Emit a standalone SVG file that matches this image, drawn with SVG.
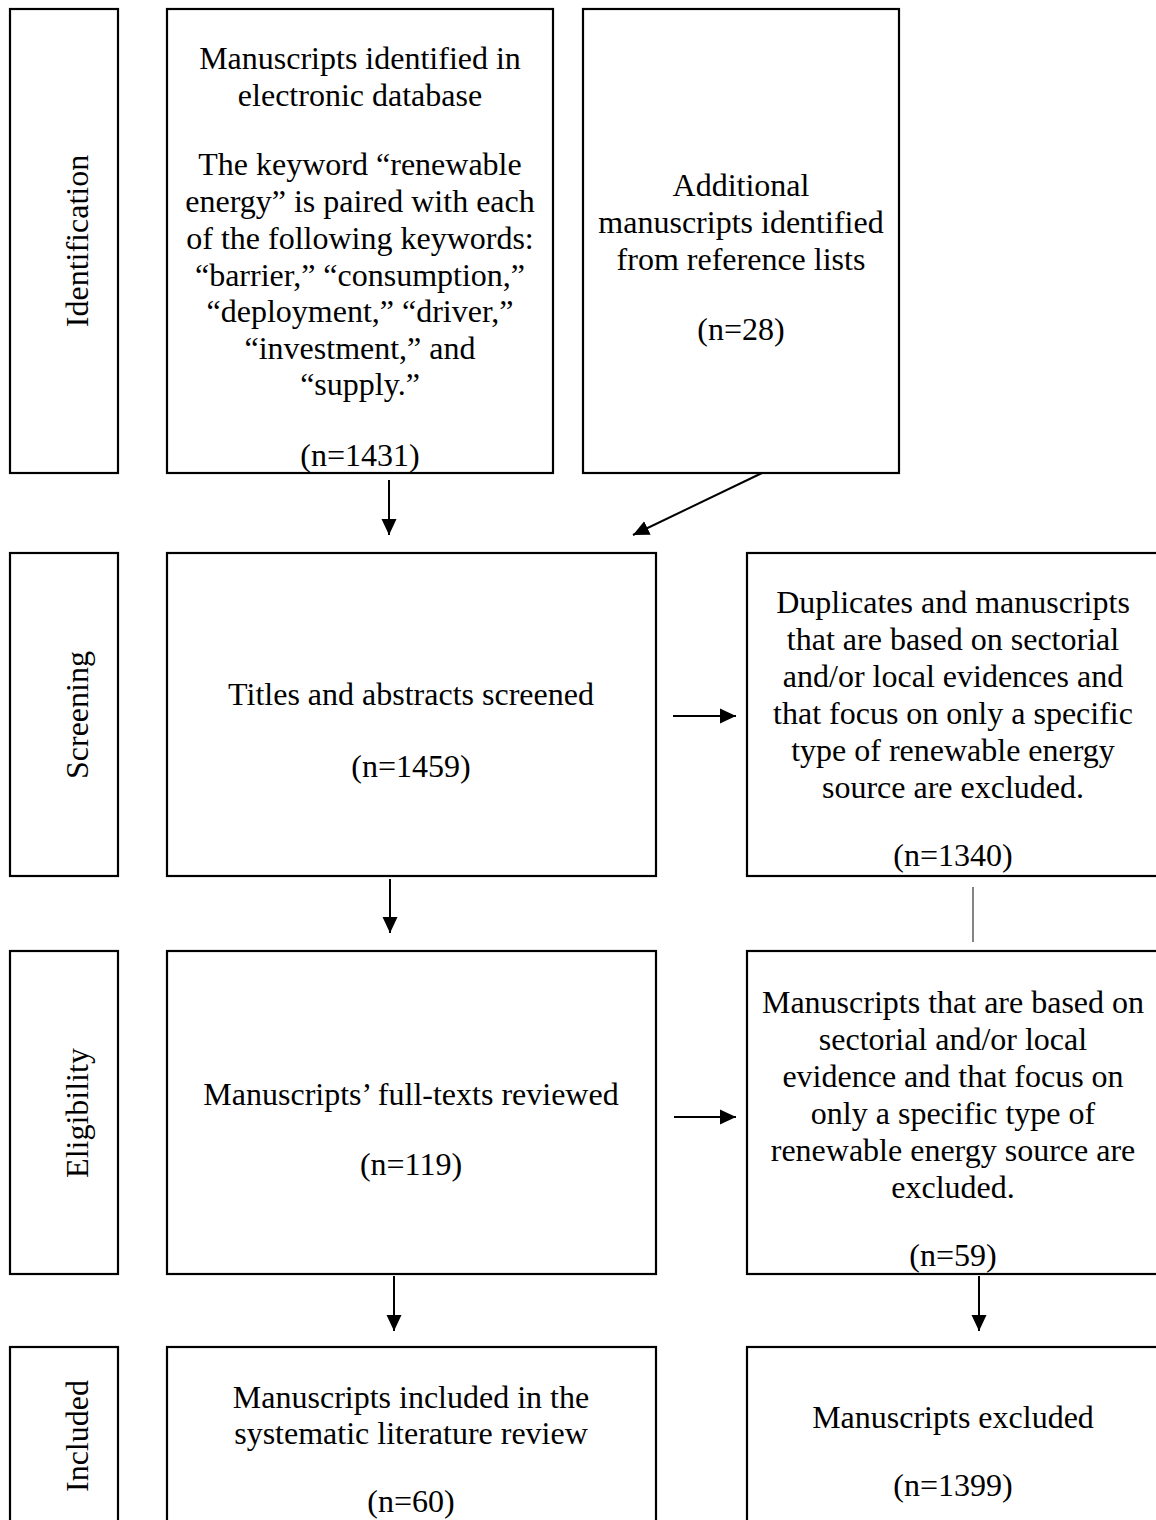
<svg xmlns="http://www.w3.org/2000/svg" width="1156" height="1520" viewBox="0 0 1156 1520">
<style>
rect{fill:#fff;stroke:#000;stroke-width:2.2}
text{font-family:"Liberation Serif","Times New Roman",serif;font-size:32px;fill:#000;text-anchor:middle}
.c{stroke:#000;stroke-width:2;fill:none}
.thin{stroke:#333;stroke-width:1.2;fill:none}
</style>
<defs>
<marker id="ah" markerUnits="userSpaceOnUse" markerWidth="16" markerHeight="16" refX="16" refY="8" orient="auto">
<path d="M0,0.5 L16,8 L0,15.5 z" fill="#000"/>
</marker>
</defs>
<rect x="-10" y="-10" width="1180" height="1540" style="stroke:none"/>

<g id="label-identification">
<rect x="10" y="9" width="108" height="464"/>
<text x="88" y="241" transform="rotate(-90 88 241)">Identification</text>
</g>
<g id="label-screening">
<rect x="10" y="553" width="108" height="323"/>
<text x="88" y="715" transform="rotate(-90 88 715)">Screening</text>
</g>
<g id="label-eligibility">
<rect x="10" y="951" width="108" height="323"/>
<text x="88" y="1113" transform="rotate(-90 88 1113)">Eligibility</text>
</g>
<g id="label-included">
<rect x="10" y="1347" width="108" height="200"/>
<text x="88" y="1436" transform="rotate(-90 88 1436)">Included</text>
</g>

<g id="node-database">
<rect x="167" y="9" width="386" height="464"/>
<text x="360" y="69">Manuscripts identified in</text>
<text x="360" y="106">electronic database</text>
<text x="360" y="175">The keyword “renewable</text>
<text x="360" y="212">energy” is paired with each</text>
<text x="360" y="249">of the following keywords:</text>
<text x="360" y="286">“barrier,” “consumption,”</text>
<text x="360" y="322">“deployment,” “driver,”</text>
<text x="360" y="359">“investment,” and</text>
<text x="360" y="395">“supply.”</text>
<text x="360" y="466">(n=1431)</text>
</g>

<g id="node-additional">
<rect x="583" y="9" width="316" height="464"/>
<text x="741" y="196">Additional</text>
<text x="741" y="233">manuscripts identified</text>
<text x="741" y="270">from reference lists</text>
<text x="741" y="340">(n=28)</text>
</g>

<g id="node-screened">
<rect x="167" y="553" width="489" height="323"/>
<text x="411" y="705">Titles and abstracts screened</text>
<text x="411" y="777">(n=1459)</text>
</g>

<g id="node-excluded1">
<rect x="747" y="553" width="420" height="323"/>
<text x="953" y="613">Duplicates and manuscripts</text>
<text x="953" y="650">that are based on sectorial</text>
<text x="953" y="687">and/or local evidences and</text>
<text x="953" y="724">that focus on only a specific</text>
<text x="953" y="761">type of renewable energy</text>
<text x="953" y="798">source are excluded.</text>
<text x="953" y="866">(n=1340)</text>
</g>

<g id="node-fulltext">
<rect x="167" y="951" width="489" height="323"/>
<text x="411" y="1105">Manuscripts’ full-texts reviewed</text>
<text x="411" y="1175">(n=119)</text>
</g>

<g id="node-excluded2">
<rect x="747" y="951" width="420" height="323"/>
<text x="953" y="1013">Manuscripts that are based on</text>
<text x="953" y="1050">sectorial and/or local</text>
<text x="953" y="1087">evidence and that focus on</text>
<text x="953" y="1124">only a specific type of</text>
<text x="953" y="1161">renewable energy source are</text>
<text x="953" y="1198">excluded.</text>
<text x="953" y="1266">(n=59)</text>
</g>

<g id="node-included">
<rect x="167" y="1347" width="489" height="200"/>
<text x="411" y="1408">Manuscripts included in the</text>
<text x="411" y="1444">systematic literature review</text>
<text x="411" y="1512">(n=60)</text>
</g>

<g id="node-excluded-total">
<rect x="747" y="1347" width="420" height="200"/>
<text x="953" y="1428">Manuscripts excluded</text>
<text x="953" y="1496">(n=1399)</text>
</g>

<g id="connectors">
<line class="c" x1="389" y1="480" x2="389" y2="535" marker-end="url(#ah)"/>
<line class="c" x1="762" y1="473" x2="633" y2="535" marker-end="url(#ah)"/>
<line class="c" x1="673" y1="716" x2="736" y2="716" marker-end="url(#ah)"/>
<line class="c" x1="390" y1="879" x2="390" y2="933" marker-end="url(#ah)"/>
<line class="thin" x1="973" y1="887" x2="973" y2="942"/>
<line class="c" x1="674" y1="1117" x2="736" y2="1117" marker-end="url(#ah)"/>
<line class="c" x1="394" y1="1276" x2="394" y2="1331" marker-end="url(#ah)"/>
<line class="c" x1="979" y1="1276" x2="979" y2="1331" marker-end="url(#ah)"/>
</g>
</svg>
